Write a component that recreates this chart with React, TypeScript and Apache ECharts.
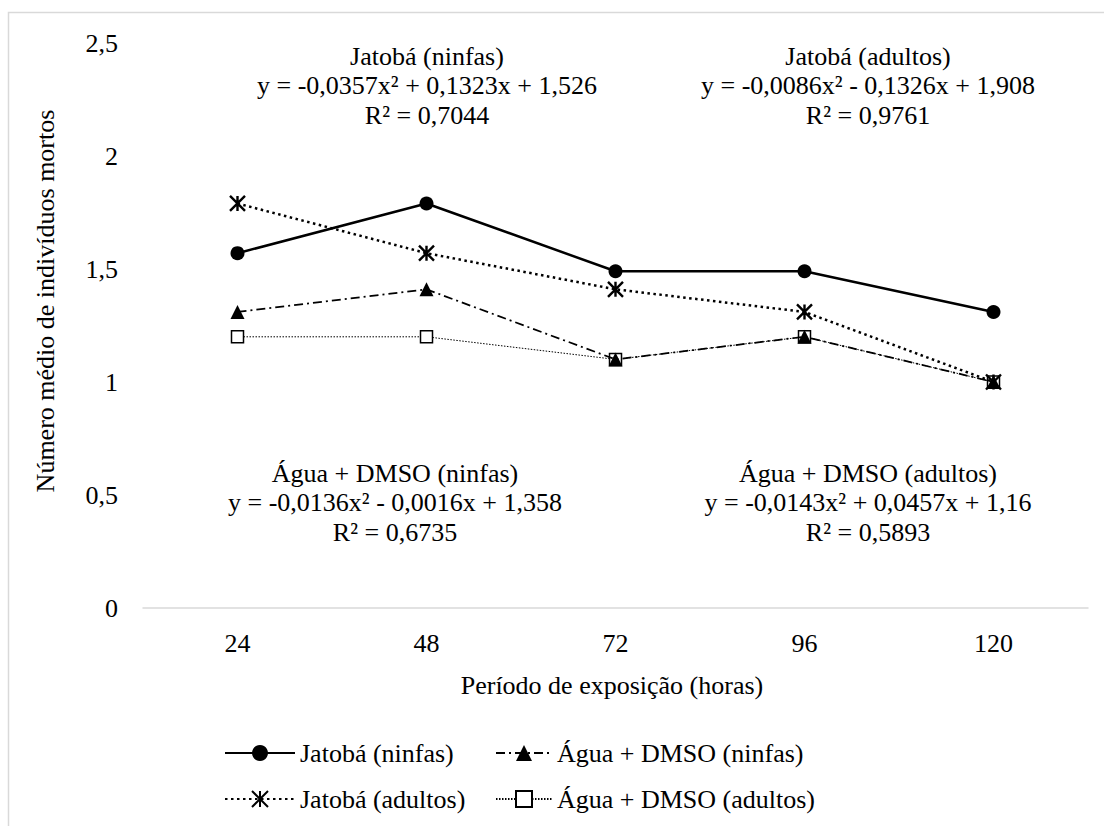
import React, { useEffect, useRef } from "react";
import * as echarts from "echarts";

const categories = ["24", "48", "72", "96", "120"];
const jatobaNinfas = [1.57, 1.79, 1.49, 1.49, 1.31];
const jatobaAdultos = [1.79, 1.57, 1.41, 1.31, 1.0];
const aguaNinfas = [1.31, 1.41, 1.1, 1.2, 1.0];
const aguaAdultos = [1.2, 1.2, 1.1, 1.2, 1.0];

const names = [
  "Jatobá (ninfas)",
  "Água + DMSO (ninfas)",
  "Jatobá (adultos)",
  "Água + DMSO (adultos)",
];

const annotations = [
  { cx: 427, cy: 56, lines: ["Jatobá (ninfas)", "y = -0,0357x² + 0,1323x + 1,526", "R² = 0,7044"] },
  { cx: 868, cy: 56, lines: ["Jatobá (adultos)", "y = -0,0086x² - 0,1326x + 1,908", "R² = 0,9761"] },
  { cx: 395, cy: 473, lines: ["Água + DMSO (ninfas)", "y = -0,0136x² - 0,0016x + 1,358", "R² = 0,6735"] },
  { cx: 868, cy: 473, lines: ["Água + DMSO (adultos)", "y = -0,0143x² + 0,0457x + 1,16", "R² = 0,5893"] },
];

const FONT = "'Liberation Serif', 'Times New Roman', 'DejaVu Serif', serif";
const FS = 26;
const ASTERISK = "path://M0,0L14,14M14,0L0,14M7,0L7,14";

export default function App() {
  const ref = useRef<HTMLDivElement>(null);
  useEffect(() => {
    document.body.style.margin = "0";
    const chart = echarts.init(ref.current!, undefined, { renderer: "svg" });
    const textStyle = { fontFamily: FONT, fontSize: FS, color: "#000" };

    const mkText = (text: string, x: number, y: number, extra: any = {}) => ({
      type: "text",
      x,
      y,
      ...extra,
      style: {
        text,
        fill: "#000",
        font: `${FS}px ${FONT}`,
        align: "center",
        verticalAlign: "middle",
      },
    });

    const graphics: any[] = [
      {
        type: "rect",
        shape: { x: 8.5, y: 12.5, width: 1110, height: 830 },
        style: { fill: "none", stroke: "#d9d9d9", lineWidth: 1.5 },
        silent: true,
      },
      mkText("Número médio de indivíduos mortos", 45, 301, { rotation: Math.PI / 2 }),
      mkText("Período de exposição (horas)", 612, 685),
    ];
    annotations.forEach((a) => {
      a.lines.forEach((t, i) => {
        graphics.push(mkText(t, a.cx, a.cy + i * 29.5));
      });
    });

    const legendBase = {
      orient: "horizontal",
      padding: 0,
      itemHeight: 20,
      textStyle: { ...textStyle },
      selectedMode: false,
    };

    chart.setOption({
      animation: false,
      backgroundColor: "#fff",
      textStyle: { fontFamily: FONT },
      grid: { left: 143, right: 16, top: 43, bottom: 218, containLabel: false },
      xAxis: {
        type: "category",
        data: categories,
        boundaryGap: true,
        axisLine: { show: true, lineStyle: { color: "#d9d9d9", width: 1.5 } },
        axisTick: { show: false },
        axisLabel: { ...textStyle, margin: 22 },
        splitLine: { show: false },
      },
      yAxis: {
        type: "value",
        min: 0,
        max: 2.5,
        interval: 0.5,
        axisLine: { show: false },
        axisTick: { show: false },
        splitLine: { show: false },
        axisLabel: {
          ...textStyle,
          margin: 25,
          formatter: (v: number) => String(v).replace(".", ","),
        },
      },
      legend: [
        { ...legendBase, data: [names[0]], left: 224, top: 740, itemWidth: 70 },
        { ...legendBase, data: [names[1]], left: 495, top: 740, itemWidth: 56 },
        { ...legendBase, data: [names[2]], left: 224, top: 786, itemWidth: 70 },
        { ...legendBase, data: [names[3]], left: 495, top: 786, itemWidth: 56 },
      ],
      series: [
        {
          name: names[3],
          type: "line",
          data: aguaAdultos,
          symbol: "rect",
          symbolSize: 12,
          itemStyle: { color: "#fff", borderColor: "#000", borderWidth: 1.5 },
          lineStyle: { color: "#000", width: 1, type: [1.5, 1.5] },
          z: 2,
        },
        {
          name: names[1],
          type: "line",
          data: aguaNinfas,
          symbol: "triangle",
          symbolSize: 14,
          itemStyle: { color: "#000" },
          lineStyle: { color: "#000", width: 1.75, type: [9, 4, 2, 4] },
          z: 3,
        },
        {
          name: names[2],
          type: "line",
          data: jatobaAdultos,
          symbol: ASTERISK,
          symbolSize: 15,
          itemStyle: { color: "#000", borderColor: "#000", borderWidth: 2.4 },
          lineStyle: { color: "#000", width: 2.5, type: [2.5, 3.5] },
          z: 4,
        },
        {
          name: names[0],
          type: "line",
          data: jatobaNinfas,
          symbol: "circle",
          symbolSize: 14,
          itemStyle: { color: "#000" },
          lineStyle: { color: "#000", width: 2.5, type: "solid" },
          z: 5,
        },
      ],
      graphic: graphics,
    });
    return () => chart.dispose();
  }, []);
  return <div ref={ref} style={{ width: 1104, height: 826 }} />;
}
